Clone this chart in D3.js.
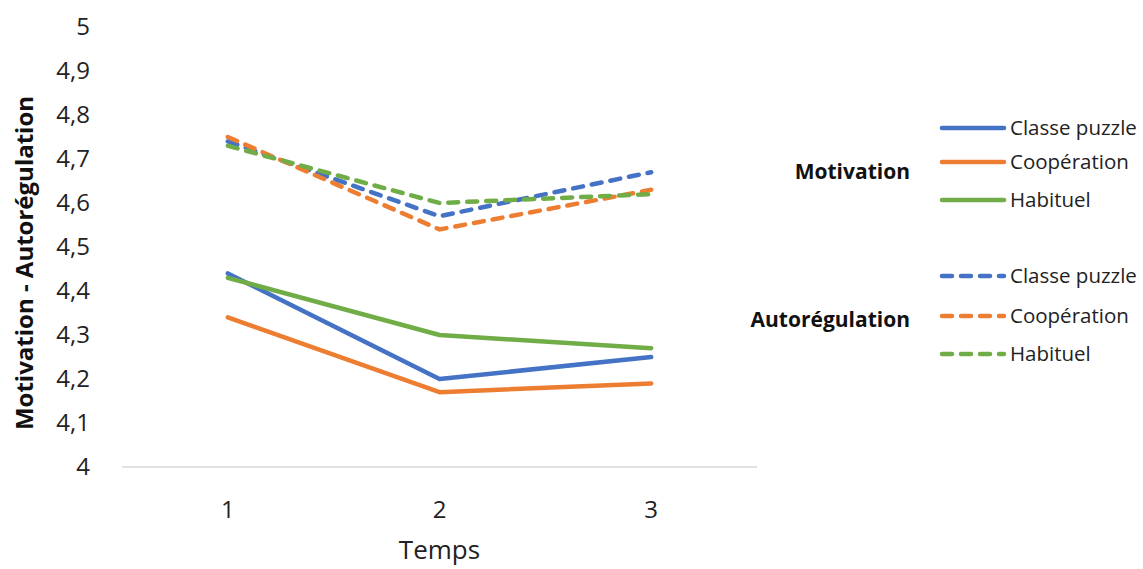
<!DOCTYPE html>
<html><head><meta charset="utf-8">
<script src="https://cdn.jsdelivr.net/npm/d3@7"></script>
<style>body{margin:0;background:#fff;} text{font-family:"Open Sans",Lato,sans-serif;}</style>
</head><body>
<svg id="c" width="1143" height="569"></svg>
<script>
const times = [1, 2, 3];
const yTicks = [4, 4.1, 4.2, 4.3, 4.4, 4.5, 4.6, 4.7, 4.8, 4.9, 5];
const groups = ["Classe puzzle", "Coopération", "Habituel"];
const motivation = [
  [4.44, 4.20, 4.25],
  [4.34, 4.17, 4.19],
  [4.43, 4.30, 4.27]
];
const autoregulation = [
  [4.74, 4.57, 4.67],
  [4.75, 4.54, 4.63],
  [4.73, 4.60, 4.62]
];
const colors = ["#4472C4", "#ED7D31", "#70AD47"];

const svg = d3.select("#c");
const x = d3.scaleLinear().domain([0.5, 3.5]).range([122, 757]);
const y = d3.scaleLinear().domain([4, 5]).range([467, 27]);

// axis line
svg.append("line").attr("x1", 122).attr("x2", 757).attr("y1", y(4)).attr("y2", y(4))
  .attr("stroke", "#d9d9d9").attr("stroke-width", 1.5);

// y tick labels
svg.selectAll(".yt").data(yTicks).enter().append("text")
  .attr("x", 90).attr("y", d => y(d)).attr("dy", "0.35em")
  .attr("text-anchor", "end").attr("font-size", 24).attr("fill", "#222")
  .text(d => d3.format(".1~f")(d).replace(".", ","));

// x tick labels
svg.selectAll(".xt").data(times).enter().append("text")
  .attr("x", d => x(d)).attr("y", 510).attr("dy", "0.35em")
  .attr("text-anchor", "middle").attr("font-size", 24).attr("fill", "#222")
  .text(d => d);

svg.append("text").attr("x", x(2)).attr("y", 550).attr("dy", "0.35em")
  .attr("text-anchor", "middle").attr("font-size", 26).attr("fill", "#222").text("Temps");

svg.append("text").attr("transform", "translate(25,263) rotate(-90)")
  .attr("dy", "0.35em").attr("text-anchor", "middle").attr("font-size", 24)
  .attr("font-weight", "bold").attr("fill", "#111").text("Motivation - Autorégulation");

const line = d3.line().x((d, i) => x(times[i])).y(d => y(d));

// dashed (autoregulation)
autoregulation.forEach((s, i) => {
  svg.append("path").attr("d", line(s)).attr("fill", "none")
    .attr("stroke", colors[i]).attr("stroke-width", 4.5)
    .attr("stroke-dasharray", "10,9").attr("stroke-linecap", "round");
});
// solid (motivation)
motivation.forEach((s, i) => {
  svg.append("path").attr("d", line(s)).attr("fill", "none")
    .attr("stroke", colors[i]).attr("stroke-width", 4.5).attr("stroke-linecap", "round")
    .attr("stroke-linejoin", "round");
});

// legend
const legY1 = [128, 162, 200];
const legY2 = [276, 316, 354];
groups.forEach((g, i) => {
  svg.append("line").attr("x1", 942).attr("x2", 1004).attr("y1", legY1[i]).attr("y2", legY1[i])
    .attr("stroke", colors[i]).attr("stroke-width", 4.5).attr("stroke-linecap", "round");
  svg.append("text").attr("x", 1010).attr("y", legY1[i]).attr("dy", "0.35em")
    .attr("font-size", 20.5).attr("fill", "#222").text(g);
  svg.append("line").attr("x1", 942).attr("x2", 1004).attr("y1", legY2[i]).attr("y2", legY2[i])
    .attr("stroke", colors[i]).attr("stroke-width", 4.5).attr("stroke-linecap", "round")
    .attr("stroke-dasharray", "10,9");
  svg.append("text").attr("x", 1010).attr("y", legY2[i]).attr("dy", "0.35em")
    .attr("font-size", 20.5).attr("fill", "#222").text(g);
});
svg.append("text").attr("x", 910).attr("y", 172).attr("dy", "0.35em").attr("text-anchor", "end")
  .attr("font-size", 21).attr("font-weight", "bold").attr("fill", "#111").text("Motivation");
svg.append("text").attr("x", 910).attr("y", 320).attr("dy", "0.35em").attr("text-anchor", "end")
  .attr("font-size", 21).attr("font-weight", "bold").attr("fill", "#111").text("Autorégulation");
</script>
</body></html>
